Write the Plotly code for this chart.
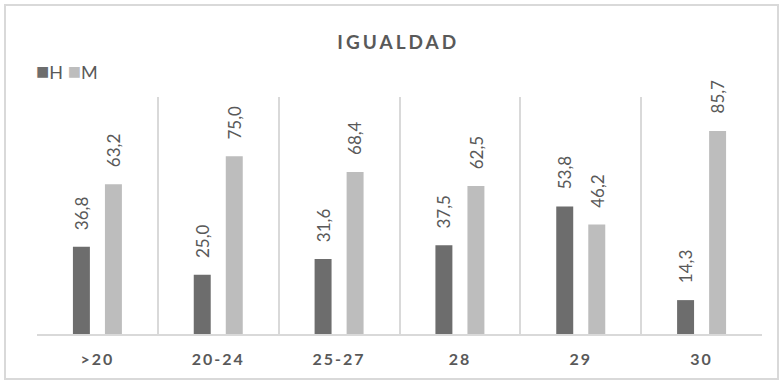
import plotly.graph_objects as go

# Age groups and percentage shares per sex
categories = [">20", "20-24", "25-27", "28", "29", "30"]
h_values = [36.8, 25.0, 31.6, 37.5, 53.8, 14.3]
m_values = [63.2, 75.0, 68.4, 62.5, 46.2, 85.7]
series_names = ["H", "M"]
title_text = "IGUALDAD"

H_COLOR = "#6d6d6d"
M_COLOR = "#bdbdbd"
TEXT_COLOR = "#595959"
GRID_COLOR = "#d9d9d9"
FONT = "Lato"


def fmt(v):
    return f"{v:.1f}".replace(".", ",")


fig = go.Figure()
for name, vals, color in [(series_names[0], h_values, H_COLOR),
                          (series_names[1], m_values, M_COLOR)]:
    fig.add_trace(go.Bar(
        name=name,
        x=categories,
        y=vals,
        marker=dict(color=color, line=dict(width=0)),
        cliponaxis=False,
        showlegend=False,
    ))

# Vertical value labels sitting a little above each bar
# (category axis positions are given by index so "28", "29", "30" stay categories)
for vals, dx in [(h_values, -16), (m_values, 16)]:
    for i, v in enumerate(vals):
        fig.add_annotation(
            x=i, y=v, xref="x", yref="y",
            text=fmt(v),
            textangle=-90,
            xanchor="center", yanchor="bottom",
            xshift=dx, yshift=15,
            showarrow=False,
            font=dict(family=FONT, size=17, color=TEXT_COLOR),
        )

fig.update_layout(
    width=784,
    height=380,
    barmode="group",
    bargap=0.47,
    bargroupgap=0.47,
    paper_bgcolor="white",
    plot_bgcolor="white",
    margin=dict(l=37, r=22, t=97, b=46),
    font=dict(family=FONT, color=TEXT_COLOR),
    title=dict(
        text=f"<b>{title_text}</b>",
        x=0.508, xanchor="center",
        y=1 - 42 / 380, yanchor="middle",
        font=dict(family=FONT, size=19, color=TEXT_COLOR),
    ),
    showlegend=False,
)

# Compact legend key: coloured squares followed by the series names
legend_html = (
    f"<span style='color:{H_COLOR};font-size:22px'>■</span>{series_names[0]} "
    f"<span style='color:{M_COLOR};font-size:22px'>■</span>{series_names[1]}"
)
fig.add_annotation(
    text=legend_html,
    xref="paper", yref="paper",
    x=-3 / 725, xanchor="left",
    y=1 + 27 / 237, yanchor="middle",
    showarrow=False,
    font=dict(family=FONT, size=18, color=TEXT_COLOR),
)

fig.update_xaxes(
    type="category",
    categoryorder="array",
    categoryarray=categories,
    range=[-0.5, len(categories) - 0.5],
    tickson="boundaries",
    showgrid=True,
    gridcolor=GRID_COLOR,
    gridwidth=2,
    showline=True,
    linecolor=GRID_COLOR,
    linewidth=2,
    ticks="",
    tickfont=dict(family=FONT, size=16, color=TEXT_COLOR, weight="bold"),
    ticklabelstandoff=10,
    tickangle=0,
    zeroline=False,
)
fig.update_yaxes(
    range=[0, 100],
    showgrid=False,
    showticklabels=False,
    zeroline=False,
    showline=False,
)

# Outer chart frame
fig.add_shape(
    type="rect", xref="paper", yref="paper",
    x0=-32 / 725, x1=1 + 16 / 725,
    y0=-45 / 237, y1=1 + 92 / 237,
    line=dict(color=GRID_COLOR, width=2),
    fillcolor="rgba(0,0,0,0)",
    layer="below",
)

# Wider tracking on the title and category labels
spacing_js = """
var gd = document.getElementById('{plot_id}');
gd.querySelectorAll('.xtick text').forEach(function(t){ t.style.letterSpacing = '2px'; });
gd.querySelectorAll('.gtitle').forEach(function(t){ t.style.letterSpacing = '3px'; });
"""

fig.write_html("out.html", post_script=spacing_js)
